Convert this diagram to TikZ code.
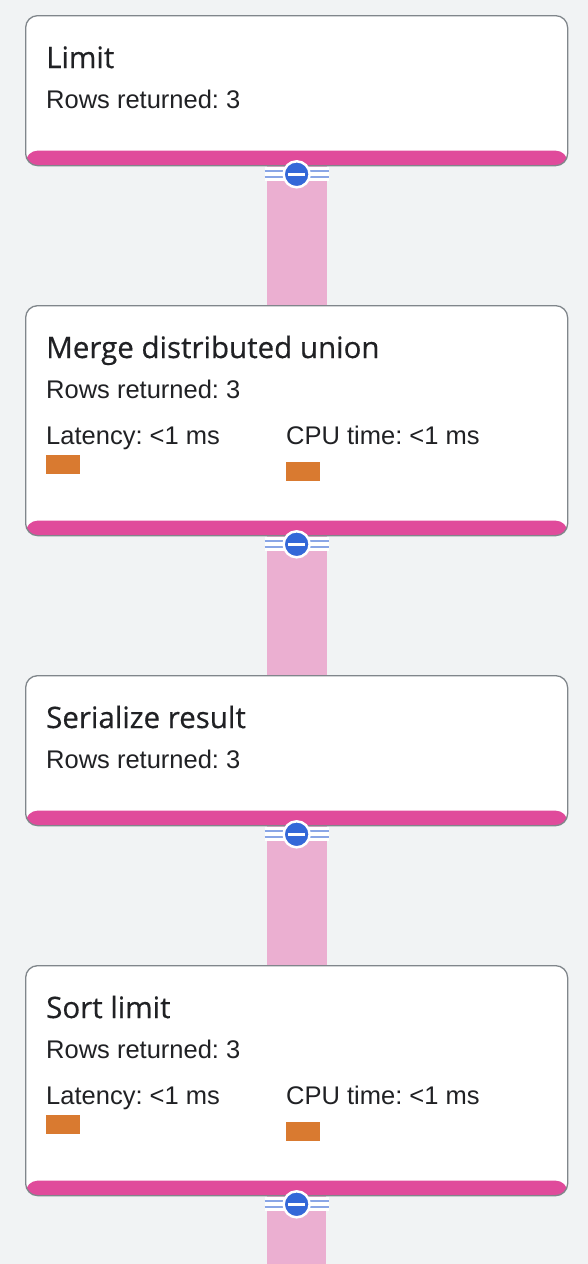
\documentclass[tikz,border=0pt]{standalone}
\usepackage{fontspec}
\setmainfont{Liberation Sans}
\newfontfamily\titlefont[FakeBold=0.5]{Open Sans}
\definecolor{pagebg}{HTML}{F1F3F4}
\definecolor{cardborder}{HTML}{80868B}
\definecolor{barpink}{HTML}{E04B9B}
\definecolor{connpink}{HTML}{EBAFD1}
\definecolor{knobblue}{HTML}{3468D8}
\definecolor{bandblue}{HTML}{8AA6E6}
\definecolor{orangebar}{HTML}{D97A30}
\definecolor{txt}{HTML}{202124}
\pgfdeclarelayer{bgl}
\pgfdeclarelayer{connl}
\pgfsetlayers{bgl,connl,main}
\frenchspacing
\tikzset{
  card/.style={draw=cardborder, line width=1.3pt, fill=white, rounded corners=12pt,
    minimum width=542pt, anchor=north west, inner sep=0pt,
    path picture={\fill[barpink] (path picture bounding box.south west) rectangle ([yshift=15pt]path picture bounding box.south east);}},
  titletext/.style={anchor=base west, inner sep=0pt, text=txt, font=\titlefont\fontsize{29.5}{34}\selectfont},
  bodytext/.style={anchor=base west, inner sep=0pt, text=txt, font=\frenchspacing\fontsize{25.5}{30}\selectfont},
  obar/.style={anchor=north west, fill=orangebar, minimum width=34pt, minimum height=19pt, inner sep=0pt},
  connector/.style={fill=connpink},
  bandline/.style={draw=bandblue, line width=2pt},
  knob/.style={circle, fill=knobblue, draw=white, line width=2.5pt, minimum size=26pt, inner sep=0pt}
}
\begin{document}
\begin{tikzpicture}[x=1pt,y=-1pt]
\useasboundingbox (0,0) rectangle (588,1264);
\begin{pgfonlayer}{bgl}
\fill[pagebg] (0,0) rectangle (588,1264);
\end{pgfonlayer}

% cards
\node[card, minimum height=150pt] (c1) at (25,15) {};
\node[card, minimum height=230pt] (c2) at (25,305) {};
\node[card, minimum height=150pt] (c3) at (25,675) {};
\node[card, minimum height=230pt] (c4) at (25,965) {};
\coordinate (end) at (296,1264);

% texts
\node[titletext] (t1) at ([xshift=21pt,yshift=-53pt]c1.north west) {Limit};
\node[bodytext] (r1) at ([xshift=21pt,yshift=-93pt]c1.north west) {Rows returned: 3};

\node[titletext] (t2) at ([xshift=21pt,yshift=-53pt]c2.north west) {Merge distributed union};
\node[bodytext] (r2) at ([xshift=21pt,yshift=-93pt]c2.north west) {Rows returned: 3};
\node[bodytext] (l2) at ([xshift=21pt,yshift=-139pt]c2.north west) {Latency: <1 ms};
\node[bodytext] (u2) at ([xshift=261pt,yshift=-139pt]c2.north west) {CPU time: <1 ms};
\node[obar] (lb2) at ([xshift=21pt,yshift=-150pt]c2.north west) {};
\node[obar] (ub2) at ([xshift=261pt,yshift=-157pt]c2.north west) {};

\node[titletext] (t3) at ([xshift=21pt,yshift=-53pt]c3.north west) {Serialize result};
\node[bodytext] (r3) at ([xshift=21pt,yshift=-93pt]c3.north west) {Rows returned: 3};

\node[titletext] (t4) at ([xshift=21pt,yshift=-53pt]c4.north west) {Sort limit};
\node[bodytext] (r4) at ([xshift=21pt,yshift=-93pt]c4.north west) {Rows returned: 3};
\node[bodytext] (l4) at ([xshift=21pt,yshift=-139pt]c4.north west) {Latency: <1 ms};
\node[bodytext] (u4) at ([xshift=261pt,yshift=-139pt]c4.north west) {CPU time: <1 ms};
\node[obar] (lb4) at ([xshift=21pt,yshift=-150pt]c4.north west) {};
\node[obar] (ub4) at ([xshift=261pt,yshift=-157pt]c4.north west) {};

% connectors
\begin{pgfonlayer}{connl}
\fill[connector] ([xshift=-30pt]c1.south) rectangle ([xshift=30pt]c2.north);
\fill[connector] ([xshift=-30pt]c2.south) rectangle ([xshift=30pt]c3.north);
\fill[connector] ([xshift=-30pt]c3.south) rectangle ([xshift=30pt]c4.north);
\fill[connector] ([xshift=-30pt]c4.south) rectangle ([xshift=30pt]end);
\end{pgfonlayer}

% collapse knobs
\foreach \c/\k in {c1/k1,c2/k2,c3/k3,c4/k4}{
  \fill[white] ([xshift=-32pt,yshift=-0.7pt]\c.south) rectangle ([xshift=32pt,yshift=-15pt]\c.south);
  \draw[bandline] ([xshift=-32pt,yshift=-4.5pt]\c.south) -- ([xshift=32pt,yshift=-4.5pt]\c.south);
  \draw[bandline] ([xshift=-32pt,yshift=-11pt]\c.south) -- ([xshift=32pt,yshift=-11pt]\c.south);
  \node[knob] (\k) at ([yshift=-8pt]\c.south) {};
  \fill[white] ([xshift=-8.5pt,yshift=-1.5pt]\k.center) rectangle ([xshift=8.5pt,yshift=1.5pt]\k.center);
}
\end{tikzpicture}
\end{document}
